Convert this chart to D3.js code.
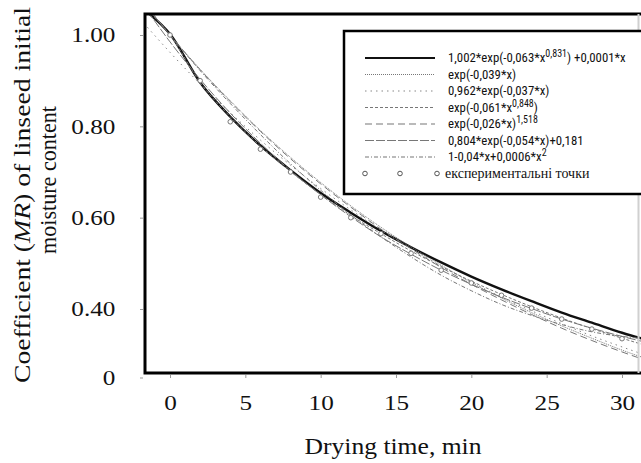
<!DOCTYPE html>
<html><head><meta charset="utf-8">
<script src="https://cdn.jsdelivr.net/npm/d3@7"></script>
<style>body{margin:0;background:#fff}</style>
</head><body>
<svg id="c" width="641" height="463"></svg>
<script>
// ---- data ----
const timeGrid = [-1.5, 0, 2, 4, 6, 8, 10, 12, 14, 16, 18, 20, 22, 24, 26, 28, 30, 32];
const modelPage   = [1.050, 1.002, 0.896, 0.821, 0.758, 0.704, 0.654, 0.611, 0.571, 0.535, 0.502, 0.471, 0.443, 0.417, 0.392, 0.370, 0.348, 0.329];
const modelNewton = [1.060, 1.000, 0.925, 0.856, 0.791, 0.732, 0.677, 0.626, 0.579, 0.536, 0.496, 0.458, 0.424, 0.392, 0.363, 0.336, 0.310, 0.287];
const modelHenderson = [1.017, 0.962, 0.893, 0.830, 0.770, 0.715, 0.664, 0.617, 0.573, 0.532, 0.494, 0.459, 0.426, 0.396, 0.368, 0.341, 0.317, 0.294];
const modelPageMod = [1.055, 1.000, 0.896, 0.821, 0.757, 0.701, 0.651, 0.605, 0.565, 0.527, 0.493, 0.461, 0.432, 0.405, 0.380, 0.357, 0.336, 0.316];
const modelPower  = [1.061, 1.000, 0.924, 0.854, 0.789, 0.729, 0.674, 0.623, 0.575, 0.532, 0.491, 0.454, 0.420, 0.388, 0.358, 0.331, 0.306, 0.283];
const modelLog    = [1.053, 0.985, 0.903, 0.829, 0.763, 0.703, 0.650, 0.602, 0.558, 0.520, 0.485, 0.454, 0.426, 0.401, 0.378, 0.358, 0.340, 0.324];
const modelWang   = [1.061, 1.000, 0.922, 0.850, 0.782, 0.718, 0.660, 0.606, 0.558, 0.514, 0.474, 0.440, 0.410, 0.386, 0.366, 0.350, 0.340, 0.334];

const expTime = [0, 2, 4, 6, 8, 10, 12, 14, 16, 18, 20, 22, 24, 26, 28, 30];
const expMR   = [1.00, 0.90, 0.81, 0.75, 0.70, 0.645, 0.60, 0.565, 0.522, 0.485, 0.457, 0.43, 0.402, 0.378, 0.356, 0.335];

const xTickValues = [0, 5, 10, 15, 20, 25, 30];
const yTickValues = [0.25, 0.4, 0.6, 0.8, 1.0];
const yTickLabels = ["0", "0.40", "0.60", "0.80", "1.00"];

// legend labels: segments [text, isSuperscript]
const legendLabels = [
  [["1,002*exp(-0,063*x", 0], ["0,831", 1], [") +0,0001*x", 0]],
  [["exp(-0,039*x)", 0]],
  [["0,962*exp(-0,037*x)", 0]],
  [["exp(-0,061*x", 0], ["0,848", 1], [")", 0]],
  [["exp(-0,026*x)", 0], ["1,518", 1]],
  [["0,804*exp(-0,054*x)+0,181", 0]],
  [["1-0,04*x+0,0006*x", 0], ["2", 1]]
];
const pointsLabel = "експериментальні точки";
const xTitle = "Drying time, min";

// ---- layout / styles ----
const series = [modelPage, modelNewton, modelHenderson, modelPageMod, modelPower, modelLog, modelWang];
const styles = [
  {stroke: "#111", width: 2.4, dash: null},
  {stroke: "#777", width: 1, dash: "1,1"},
  {stroke: "#888", width: 1, dash: "1.5,4"},
  {stroke: "#777", width: 1, dash: "3,2"},
  {stroke: "#777", width: 1, dash: "7,4"},
  {stroke: "#777", width: 1, dash: "9,2"},
  {stroke: "#777", width: 1, dash: "4,2,1,2"}
];
const SERIF = '"Liberation Serif"';
const COND = '"Roboto Condensed"';

const svg = d3.select("#c");
const x = d3.scaleLinear().domain([0, 30]).range([170, 622]);
const y = d3.scaleLinear().domain([0.4, 1.0]).range([309, 35]);
const L = 145, T = 14, B = 373, R = 645;

svg.append("defs").append("clipPath").attr("id", "clip")
  .append("rect").attr("x", L).attr("y", T).attr("width", R - L).attr("height", B - T);

const plot = svg.append("g").attr("clip-path", "url(#clip)");
const line = d3.line().x(d => x(d[0])).y(d => y(d[1])).curve(d3.curveMonotoneX);

series.forEach((s, i) => {
  const st = styles[i];
  plot.append("path")
    .datum(timeGrid.map((t, k) => [t, s[k]]))
    .attr("d", line).attr("fill", "none")
    .attr("stroke", st.stroke).attr("stroke-width", st.width)
    .attr("stroke-dasharray", st.dash);
});

plot.selectAll("circle.pt").data(expTime.map((t, k) => [t, expMR[k]]))
  .enter().append("circle").attr("class", "pt")
  .attr("cx", d => x(d[0])).attr("cy", d => y(d[1])).attr("r", 2.3)
  .attr("fill", "#fff").attr("stroke", "#777").attr("stroke-width", 1);

// frame
svg.append("path").attr("d", `M${R},${T}H${L}V${B}H${R}`)
  .attr("fill", "none").attr("stroke", "#000").attr("stroke-width", 3);
svg.append("line").attr("x1", 638.5).attr("x2", 638.5).attr("y1", T).attr("y2", B)
  .attr("stroke", "#d0d0d0").attr("stroke-width", 2);

// axes
const xAxis = svg.append("g").attr("transform", `translate(0,${B + 2})`)
  .call(d3.axisBottom(x).tickValues(xTickValues).tickSize(3).tickPadding(17).tickFormat(d3.format("d")));
const yAxis = svg.append("g").attr("transform", `translate(${L - 2},0)`)
  .call(d3.axisLeft(y).tickValues(yTickValues).tickSize(3).tickPadding(20).tickFormat((d, i) => yTickLabels[i]));
[xAxis, yAxis].forEach(a => {
  a.attr("font-family", null).attr("font-size", null);
  a.select(".domain").remove();
  a.selectAll(".tick line").attr("stroke", "#999");
  a.selectAll("text").style("font-family", SERIF).style("font-size", "21px").attr("fill", "#111");
});
xAxis.selectAll(".tick text").attr("transform", "scale(1.2,1)");
yAxis.selectAll(".tick text").attr("transform", "scale(1.2,1)");

svg.append("text").attr("x", 393).attr("y", 454).attr("text-anchor", "middle")
  .style("font-family", SERIF).style("font-size", "23px").attr("fill", "#111")
  .attr("textLength", 177).attr("lengthAdjust", "spacingAndGlyphs").text(xTitle);

const yt = svg.append("g").attr("transform", "translate(30,195) rotate(-90)");
const t1 = yt.append("text").attr("x", 0).attr("y", 0).attr("text-anchor", "middle")
  .style("font-family", SERIF).style("font-size", "23px").attr("fill", "#111")
  .attr("textLength", 376).attr("lengthAdjust", "spacingAndGlyphs");
t1.append("tspan").text("Coefficient (");
t1.append("tspan").style("font-style", "italic").text("MR");
t1.append("tspan").text(") of linseed initial");
yt.append("text").attr("x", 15).attr("y", 26).attr("text-anchor", "middle")
  .style("font-family", SERIF).style("font-size", "23px").attr("fill", "#111")
  .attr("textLength", 148).attr("lengthAdjust", "spacingAndGlyphs").text("moisture content");

// legend
const lg = svg.append("g");
lg.append("rect").attr("x", 344).attr("y", 31).attr("width", 320).attr("height", 163)
  .attr("fill", "#fff").attr("stroke", "#000").attr("stroke-width", 2.5);
const rowY = k => 58 + k * 16.5;
legendLabels.forEach((segs, k) => {
  const st = styles[k];
  lg.append("line").attr("x1", 365).attr("x2", 435).attr("y1", rowY(k)).attr("y2", rowY(k))
    .attr("stroke", st.stroke).attr("stroke-width", st.width === 1 ? 1.2 : 2)
    .attr("stroke-dasharray", st.dash);
  const tx = lg.append("text").attr("x", 448).attr("y", rowY(k) + 4)
    .style("font-family", COND).style("font-size", "12.8px").attr("fill", "#111");
  segs.forEach(([s, sup], j) => {
    const ts = tx.append("tspan").text(s);
    if (sup) ts.style("font-size", "10px").attr("dy", -5);
    else if (j > 0 && segs[j - 1][1]) ts.attr("dy", 5);
  });
  const w = tx.node().getComputedTextLength();
  if (448 + w > 638) tx.attr("textLength", 638 - 448).attr("lengthAdjust", "spacingAndGlyphs");
});
const pr = rowY(legendLabels.length);
[365, 400, 437].forEach(cx => lg.append("circle").attr("cx", cx).attr("cy", pr).attr("r", 2.3)
  .attr("fill", "#fff").attr("stroke", "#555").attr("stroke-width", 1));
lg.append("text").attr("x", 445).attr("y", pr + 4.5)
  .style("font-family", SERIF).style("font-size", "14px").attr("fill", "#111").text(pointsLabel);
</script>
</body></html>
